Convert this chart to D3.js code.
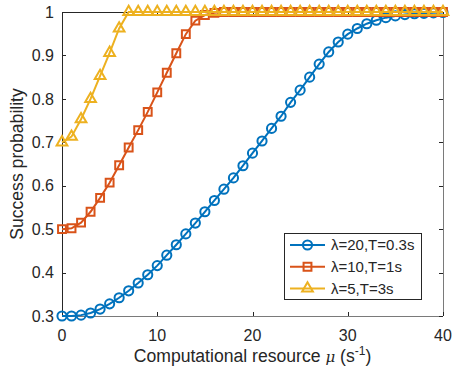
<html>
<script src='https://d3js.org/d3.v7.min.js'></script>
<style>
body {margin: 0; background: white;}
text {font-family: "Liberation Sans", Arial, sans-serif; fill: #262626;}
</style>
<body>
<svg width=452 height=377></svg>
<script>
// x values: computational resource mu, 0..40
var mu = d3.range(0, 41)
var blueVals = [0.300,0.300,0.302,0.307,0.316,0.328,0.342,0.358,0.376,0.395,0.416,0.440,0.464,0.489,0.514,0.540,0.566,0.592,0.618,0.646,0.675,0.703,0.732,0.760,0.792,0.820,0.850,0.880,0.908,0.931,0.949,0.962,0.973,0.981,0.987,0.991,0.994,0.996,0.997,0.998,0.999]
var redVals = [0.500,0.502,0.515,0.540,0.572,0.607,0.647,0.688,0.728,0.770,0.815,0.860,0.905,0.949,0.980,0.993,0.998,1,1,1,1,1,1,1,1,1,1,1,1,1,1,1,1,1,1,1,1,1,1,1,1]
var yellowVals = [0.700,0.713,0.753,0.800,0.853,0.906,0.962,1,1,1,1,1,1,1,1,1,1,1,1,1,1,1,1,1,1,1,1,1,1,1,1,1,1,1,1,1,1,1,1,1,1]
var seriesNames = ["\u03bb=20,T=0.3s", "\u03bb=10,T=1s", "\u03bb=5,T=3s"]
var xTicks = [0, 10, 20, 30, 40]
var yTicks = [0.3, 0.4, 0.5, 0.6, 0.7, 0.8, 0.9, 1]

var series = [
  {name: seriesNames[0], vals: blueVals, color: "#0072BD", sym: d3.symbolCircle, size: 66},
  {name: seriesNames[1], vals: redVals, color: "#D95319", sym: d3.symbolSquare, size: 62},
  {name: seriesNames[2], vals: yellowVals, color: "#EDB120", sym: d3.symbolTriangle, size: 50}
]

var L = 62, R = 443, T = 12, B = 316
var x = d3.scaleLinear().domain([0, 40]).range([L, R])
var y = d3.scaleLinear().domain([0.3, 1]).range([B, T])
var svg = d3.select("svg")

// axes box
svg.append("line").attr("x1", L).attr("x2", R).attr("y1", T + 0.5).attr("y2", T + 0.5).attr("stroke", "#262626")
svg.append("line").attr("x1", L + 0.5).attr("x2", L + 0.5).attr("y1", T).attr("y2", B).attr("stroke", "#262626")
svg.append("line").attr("x1", L).attr("x2", R).attr("y1", B + 0.5).attr("y2", B + 0.5).attr("stroke", "#7a7a7a")
svg.append("line").attr("x1", R + 0.5).attr("x2", R + 0.5).attr("y1", T).attr("y2", B).attr("stroke", "#7a7a7a")

// ticks (inward, mirrored)
var g = svg.append("g")
yTicks.forEach(function(t) {
  g.append("line").attr("x1", L).attr("x2", L + 4).attr("y1", Math.round(y(t)) + 0.5).attr("y2", Math.round(y(t)) + 0.5).attr("stroke", "#262626")
  g.append("line").attr("x1", R).attr("x2", R - 4).attr("y1", Math.round(y(t)) + 0.5).attr("y2", Math.round(y(t)) + 0.5).attr("stroke", "#262626")
  g.append("text").attr("x", 54).attr("y", y(t)).attr("dy", "0.36em").attr("text-anchor", "end")
    .style("font-size", "16px").text(d3.format("~g")(t))
})
xTicks.forEach(function(t) {
  g.append("line").attr("x1", Math.round(x(t)) + 0.5).attr("x2", Math.round(x(t)) + 0.5).attr("y1", B).attr("y2", B - 4).attr("stroke", "#262626")
  g.append("line").attr("x1", Math.round(x(t)) + 0.5).attr("x2", Math.round(x(t)) + 0.5).attr("y1", T).attr("y2", T + 4).attr("stroke", "#262626")
  g.append("text").attr("x", x(t)).attr("y", 341).attr("text-anchor", "middle")
    .style("font-size", "16px").text(t)
})

// axis titles
svg.append("text").attr("transform", "translate(23," + ((T + B) / 2) + ") rotate(-90)")
  .attr("text-anchor", "middle").style("font-size", "17.6px").text("Success probability")
var xl = svg.append("text").attr("x", (L + R) / 2).attr("y", 362).attr("text-anchor", "middle").style("font-size", "17.6px")
xl.append("tspan").text("Computational resource  ")
xl.append("tspan").style("font-style", "italic").style("font-family", "'DejaVu Serif', serif").style("font-size", "15px").text("\u03bc")
xl.append("tspan").text(" (s")
xl.append("tspan").attr("dy", -7).style("font-size", "12px").text("-1")
xl.append("tspan").attr("dy", 7).text(")")

// series lines + markers
var line = d3.line().x(function(d, i) { return x(mu[i]) }).y(function(d) { return y(d) })
series.forEach(function(s) {
  svg.append("path").datum(s.vals).attr("d", line)
    .attr("fill", "none").attr("stroke", s.color).attr("stroke-width", 2)
  svg.append("g").selectAll("path").data(s.vals).enter().append("path")
    .attr("d", d3.symbol().type(s.sym).size(s.size))
    .attr("transform", function(d, i) { return "translate(" + x(mu[i]) + "," + y(d) + ")" })
    .attr("fill", "none").attr("stroke", s.color).attr("stroke-width", 2)
})

// legend
var lg = svg.append("g")
lg.append("rect").attr("x", 284.5).attr("y", 233.5).attr("width", 137).attr("height", 66)
  .attr("fill", "white").attr("stroke", "#262626")
series.forEach(function(s, i) {
  var ly = 245 + i * 21.7
  lg.append("line").attr("x1", 290).attr("x2", 325).attr("y1", ly).attr("y2", ly).attr("stroke", s.color).attr("stroke-width", 2)
  lg.append("path").attr("d", d3.symbol().type(s.sym).size(s.size))
    .attr("transform", "translate(307.5," + ly + ")").attr("fill", "none").attr("stroke", s.color).attr("stroke-width", 2)
  lg.append("text").attr("x", 331).attr("y", ly).attr("dy", "0.36em").style("font-size", "15px").text(s.name)
})
</script>
</body>
</html>
